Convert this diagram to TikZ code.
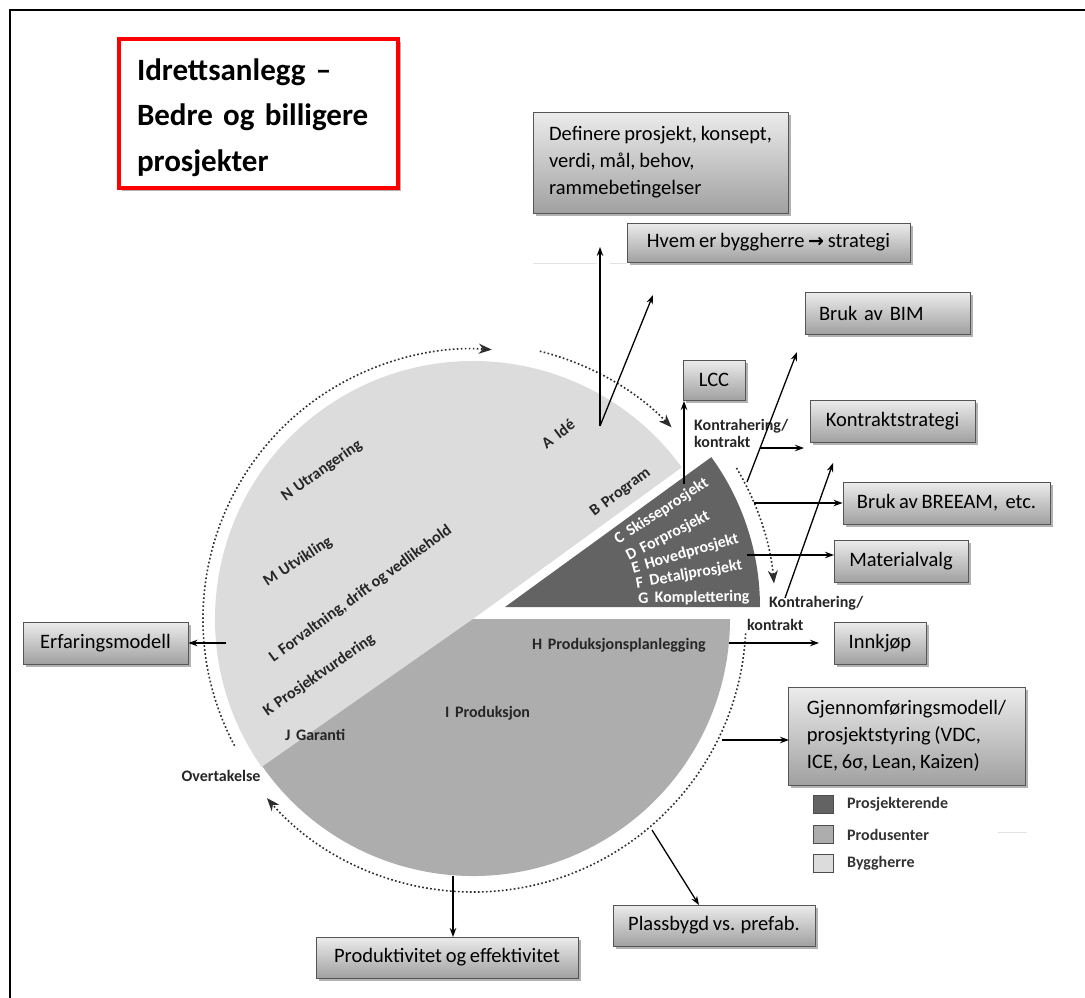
\documentclass[tikz,border=0pt]{standalone}
\usepackage{fontspec}
\setmainfont{Carlito}[WordSpace=0.8]
\newfontfamily\titlefont{Carlito}
\newfontfamily\symfont{DejaVu Sans}
\usetikzlibrary{arrows.meta,shadows,calc}

\definecolor{pieLight}{HTML}{DCDCDC}
\definecolor{pieMid}{HTML}{ADADAD}
\definecolor{pieDark}{HTML}{636363}
\definecolor{labelGray}{HTML}{262626}
\definecolor{boxEdge}{HTML}{555555}
\definecolor{ringGray}{HTML}{2E2E2E}

\begin{document}
\begin{tikzpicture}[x=1pt,y=-1pt,
  infobox/.style={draw=boxEdge, line width=0.9pt, top color=gray!15, bottom color=gray!74,
    text=black, font=\fontsize{20.5}{27}\selectfont, inner sep=0pt, align=center,
    drop shadow={shadow xshift=3pt, shadow yshift=-3pt, opacity=0.3, fill=black}},
  plabel/.style={font=\bfseries\fontsize{16}{17}\selectfont, text=labelGray, inner sep=0pt, anchor=west},
  wlabel/.style={plabel, text=white},
  legsq/.style={draw=gray!60!black, line width=1pt, minimum width=20pt, minimum height=18pt, inner sep=0pt},
  conn/.style={line width=1.3pt, -{Stealth[length=9pt,width=6.5pt]}},
  ring/.style={ringGray, line width=1.6pt, dash pattern=on 1.7pt off 2.3pt,
    -{Stealth[length=13pt,width=10pt,inset=4pt]}},
  faint/.style={gray!22, line width=1pt}
]
\useasboundingbox (0,0) rectangle (1085,997);

% outer frame
\draw[line width=2.2pt] (10,1010) -- (10,10) -- (1100,10);

% title (first baseline sits text height below the top of the text box)
\node[draw=red, line width=4pt, fill=white,
  drop shadow={shadow xshift=3pt, shadow yshift=-3pt, opacity=0.3, fill=black},
  minimum width=279pt, minimum height=149pt, text width=243pt, inner xsep=18pt, inner ysep=0pt,
  text height=24pt, text depth=91pt,
  align=left, font=\titlefont\bfseries\fontsize{31}{45.5}\selectfont] (title) at (258.5,113.5)
  {Idrettsanlegg –\\Bedre og billigere\\prosjekter};

% pie sectors
\coordinate (O) at (473,619);
\coordinate (Dk) at (505,607);
\fill[pieLight] (O) -- ++(36:258pt) arc[start angle=36, end angle=215, radius=258pt] -- cycle;
\fill[pieMid] (O) -- ++(215:257pt) arc[start angle=215, end angle=360, radius=257pt] -- cycle;
\fill[pieDark] (Dk) -- ++(0:255pt) arc[start angle=0, end angle=36, radius=255pt] -- cycle;

% dotted cycle around the pie
\draw[ring] ($(O)+(208:270pt)$) arc[start angle=208, end angle=86, radius=270pt];
\draw[ring] ($(O)+(76:276pt)$) arc[start angle=76, end angle=44, radius=276pt];
\draw[ring] ($(Dk)+(31:270pt)$) arc[start angle=31, end angle=5, radius=270pt];
\draw[ring] ($(O)+(-3:273pt)$) arc[start angle=-3, end angle=-139, radius=273pt];

% phase labels, client sector
\node[plabel, rotate=37] (la) at (543,445) {A\hspace{0.4em}Idé};
\node[plabel, rotate=37] (lb) at (592,514) {B\hspace{0.35em}Program};
\node[plabel, rotate=35] (ln) at (283,498) {N\hspace{0.3em}Utrangering};
\node[plabel, rotate=33] (lm) at (265,583) {M\hspace{0.3em}Utvikling};
\node[plabel, rotate=36] (ll) at (271,659) {L\hspace{0.3em}Forvaltning, drift og vedlikehold};
\node[plabel, rotate=35] (lk) at (265,713) {K\hspace{0.3em}Prosjektvurdering};
% design sector
\node[wlabel, rotate=33] (lc) at (616,541) {C\hspace{0.35em}Skisseprosjekt};
\node[wlabel, rotate=27] (ld) at (627,557) {D\hspace{0.35em}Forprosjekt};
\node[wlabel, rotate=16] (le) at (632,569) {E\hspace{0.35em}Hovedprosjekt};
\node[wlabel, rotate=10] (lf) at (636,584) {F\hspace{0.4em}Detaljprosjekt};
\node[wlabel, rotate=1] (lg) at (638,599) {G\hspace{0.4em}Komplettering};
% production sector
\node[plabel] (lh) at (532,645) {H\hspace{0.35em}Produksjonsplanlegging};
\node[plabel] (li) at (445,713) {I\hspace{0.35em}Produksjon};
\node[plabel] (lj) at (285,735) {J\hspace{0.35em}Garanti};
\node[plabel, anchor=center] (handover) at (221,776) {Overtakelse};

% contract labels
\node[plabel] (k1a) at (694,426) {Kontrahering/};
\node[plabel] (k1b) at (694,442) {kontrakt};
\node[plabel] (k2a) at (769,603) {Kontrahering/};
\node[plabel] (k2b) at (747,625) {kontrakt};

% boxes
\node[infobox, minimum width=255pt, minimum height=101pt, align=left] (define) at (660.5,162.5)
  {Definere prosjekt, konsept,\\verdi, mål, behov,\\rammebetingelser};
\node[infobox, minimum width=283pt, minimum height=39pt] (owner) at (768.5,242.5)
  {Hvem er byggherre {\symfont\bfseries\fontsize{19}{20}\selectfont →} strategi};
\node[infobox, minimum height=42pt, text width=137pt, inner xsep=14pt, align=left] (bim) at (887.5,313) {Bruk av BIM};
\node[infobox, minimum width=62pt, minimum height=40pt] (lcc) at (714,380) {LCC};
\node[infobox, minimum width=165pt, minimum height=42pt] (kstrat) at (892.5,421) {Kontraktstrategi};
\node[infobox, minimum width=207pt, minimum height=42pt] (breeam) at (946.5,503) {Bruk av BREEAM,\ \ etc.};
\node[infobox, minimum width=134pt, minimum height=42pt] (mat) at (901,561) {Materialvalg};
\node[infobox, minimum width=92pt, minimum height=42pt] (buy) at (880,643) {Innkjøp};
\node[infobox, minimum width=237pt, minimum height=98pt, align=left] (mgmt) at (906.5,736)
  {Gjennomføringsmodell/\\prosjektstyring (VDC,\\ICE, 6σ, Lean, Kaizen)};
\node[infobox, minimum width=165pt, minimum height=42pt] (exp) at (105.5,643) {Erfaringsmodell};
\node[infobox, minimum width=202pt, minimum height=41pt] (prefab) at (714,925.5) {Plassbygd vs. prefab.};
\node[infobox, minimum width=262pt, minimum height=41pt] (prod) at (447,957.5) {Produktivitet og effektivitet};

% legend
\node[legsq, fill=pieDark] (lg1) at (823.5,804) {};
\node[legsq, fill=pieMid] (lg2) at (823.5,834.5) {};
\node[legsq, fill=pieLight] (lg3) at (823.5,863.5) {};
\node[plabel, text=gray!40!black] (lt1) at (847,804) {Prosjekterende};
\node[plabel, text=gray!40!black] (lt2) at (847,834.5) {Produsenter};
\node[plabel, text=gray!40!black] (lt3) at (847,863.5) {Byggherre};

% faint rules
\coordinate (fa1) at (533,263); \coordinate (fa2) at (597,263);
\coordinate (fb1) at (610,263); \coordinate (fb2) at (627,263);
\coordinate (fc1) at (998,832); \coordinate (fc2) at (1027,832);
\draw[faint] (fa1) -- (fa2);
\draw[faint] (fb1) -- (fb2);
\draw[faint] (fc1) -- (fc2);

% connector end points
\coordinate (pIdea) at (600,426);
\coordinate (pIdeaUp) at (600,247);
\coordinate (pIdeaDiag) at (653,295);
\coordinate (pLccFrom) at (684,484);
\coordinate (pLccTo) at (684,401);
\coordinate (pBimFrom) at (747,482);
\coordinate (pBimTo) at (797,352);
\coordinate (pK1From) at (760,448);
\coordinate (pK1To) at (804,448);
\coordinate (pK2From) at (785,598);
\coordinate (pK2To) at (833,463);
\coordinate (pBreeamFrom) at (754,503);
\coordinate (pMatFrom) at (747,555);
\coordinate (pMatTo) at (834,555);
\coordinate (pBuyFrom) at (729,643);
\coordinate (pBuyTo) at (819,643);
\coordinate (pMgmtFrom) at (722,740);
\coordinate (pMgmtTo) at (789,740);
\coordinate (pExpFrom) at (226,643);
\coordinate (pPrefabFrom) at (652,830);
\coordinate (pPrefabTo) at (699,905);
\coordinate (pProdFrom) at (453,876);
\coordinate (pProdTo) at (453,937);

% connectors
\draw[conn] (pIdea) -- (pIdeaUp);
\draw[conn] (pIdea) -- (pIdeaDiag);
\draw[conn] (pLccFrom) -- (pLccTo);
\draw[conn] (pBimFrom) -- (pBimTo);
\draw[conn] (pK1From) -- (pK1To);
\draw[conn] (pK2From) -- (pK2To);
\draw[conn] (pBreeamFrom) -- (breeam.west);
\draw[conn] (pMatFrom) -- (pMatTo);
\draw[conn] (pBuyFrom) -- (pBuyTo);
\draw[conn] (pMgmtFrom) -- (pMgmtTo);
\draw[conn] (pExpFrom) -- (exp.east);
\draw[conn] (pPrefabFrom) -- (pPrefabTo);
\draw[conn] (pProdFrom) -- (pProdTo);
\end{tikzpicture}
\end{document}
